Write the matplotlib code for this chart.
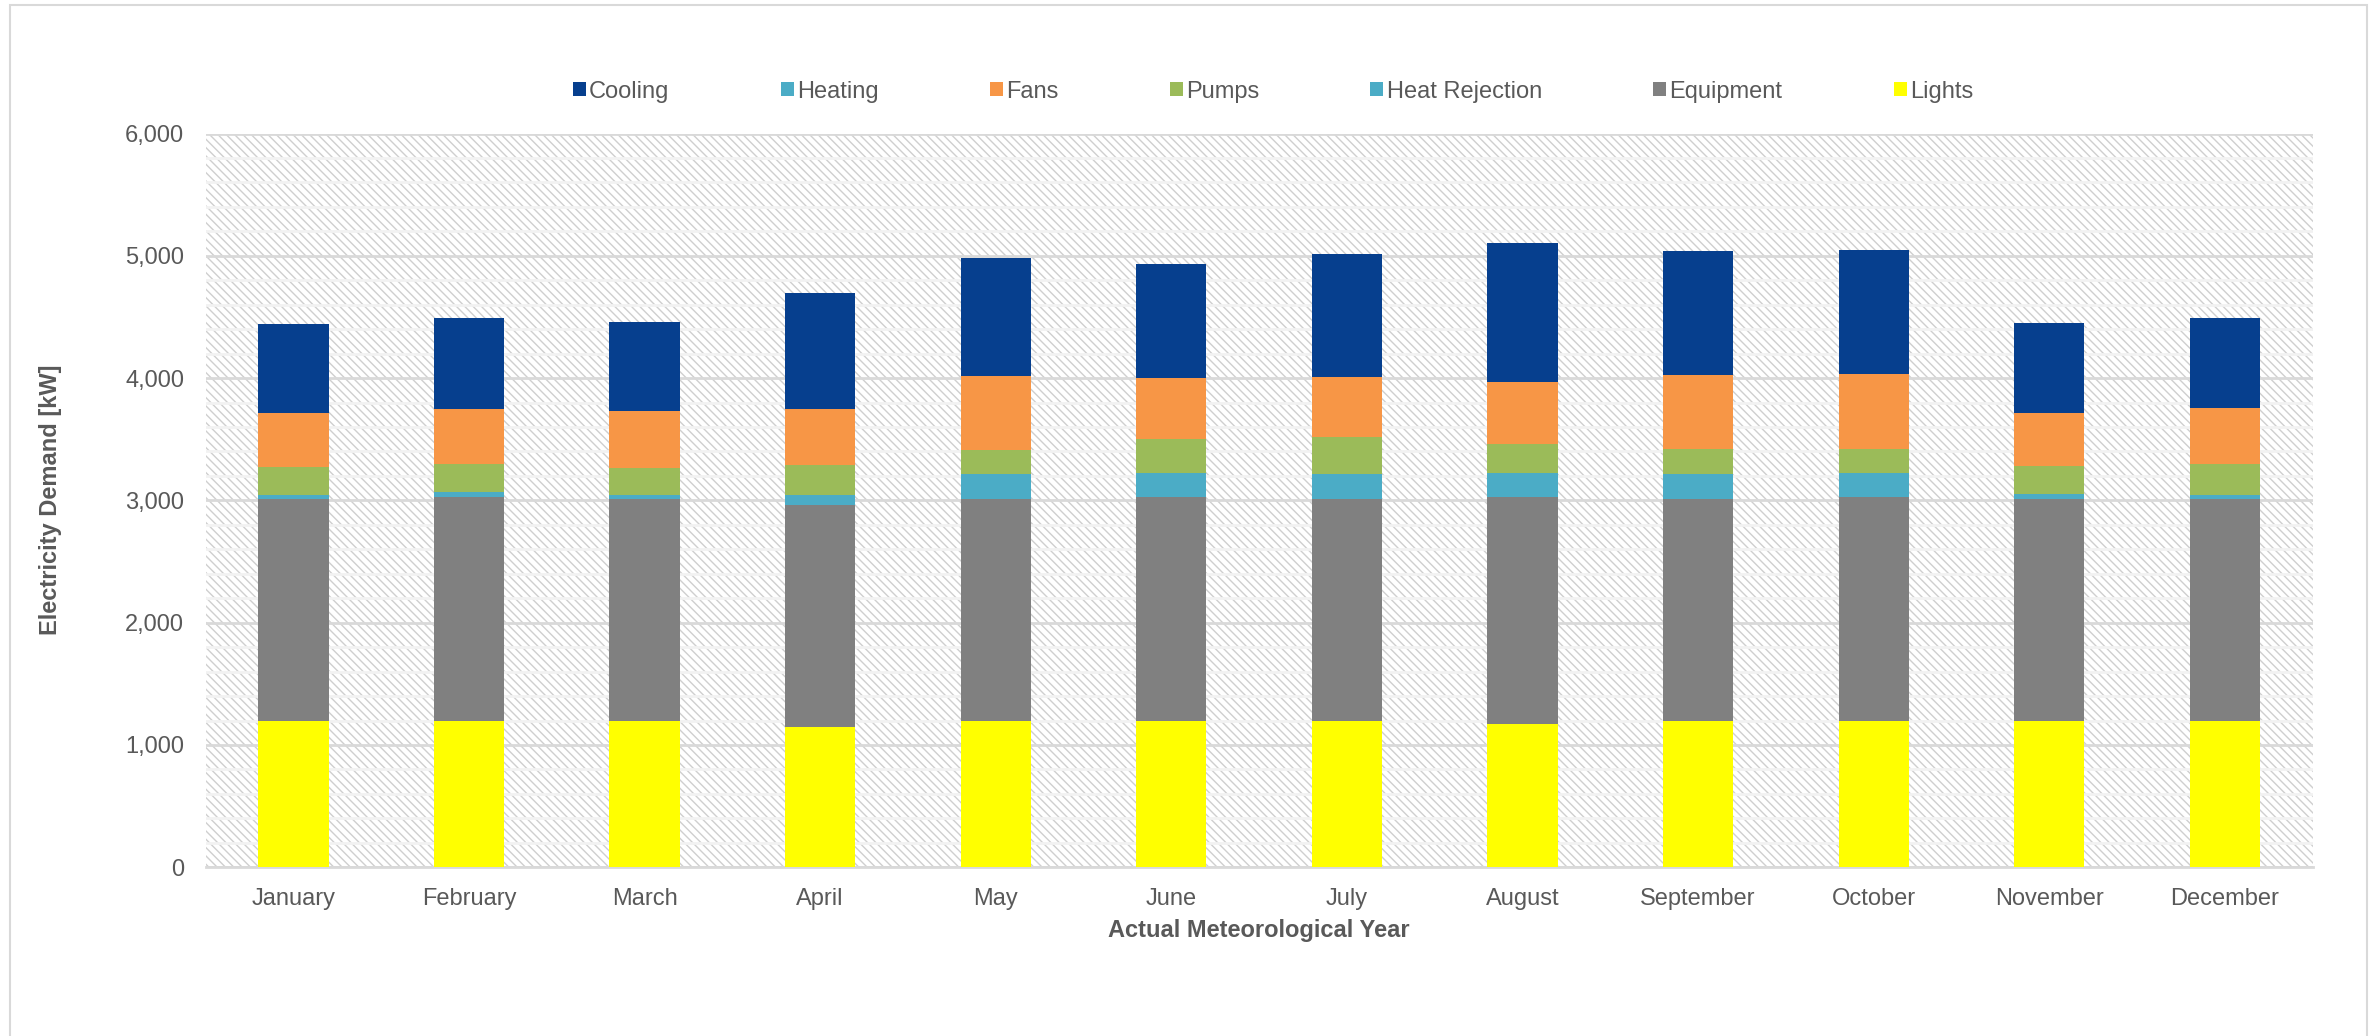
import matplotlib.pyplot as plt
import numpy as np
from matplotlib.patches import Patch, Rectangle
from matplotlib.ticker import FuncFormatter, MultipleLocator

plt.rcParams['font.family'] = ['Liberation Sans', 'DejaVu Sans']

months = ['January', 'February', 'March', 'April', 'May', 'June', 'July',
          'August', 'September', 'October', 'November', 'December']

# kW (stacked bottom -> top)
lights = [1200, 1200, 1200, 1150, 1200, 1200, 1200, 1170, 1200, 1200, 1200, 1200]
equipment = [1810, 1828, 1811, 1812, 1811, 1828, 1811, 1855, 1811, 1828, 1811, 1811]
heat_rejection = [37, 43, 30, 79, 205, 196, 205, 196, 205, 193, 38, 33]
pumps = [229, 229, 224, 249, 196, 278, 300, 240, 202, 200, 232, 256]
fans = [442, 448, 469, 458, 608, 502, 491, 510, 605, 613, 437, 459]
heating = [0, 0, 0, 0, 0, 0, 0, 0, 0, 0, 0, 0]
cooling = [728, 741, 726, 946, 966, 927, 1006, 1135, 1018, 1012, 736, 730]

series = [('Lights', lights, '#FFFF00'),
          ('Equipment', equipment, '#808080'),
          ('Heat Rejection', heat_rejection, '#4BACC6'),
          ('Pumps', pumps, '#9BBB59'),
          ('Fans', fans, '#F79646'),
          ('Heating', heating, '#4BACC6'),
          ('Cooling', cooling, '#063F8E')]

W, H = 2379, 1036
txt = '#595959'

fig = plt.figure(figsize=(W / 100, H / 100), dpi=100)
ax = fig.add_axes([205.6 / W, 1 - 867.3 / H, (2312.6 - 205.6) / W, (867.3 - 133.5) / H])

# hatched plot area like the excel pattern fill
ax.set_facecolor('white')
plt.rcParams['hatch.linewidth'] = 1.0
ax.add_patch(Rectangle((0, 0), 1, 1, transform=ax.transAxes, facecolor='white',
                       edgecolor='#CFCFCF', hatch='\\\\\\\\', lw=0, zorder=0))

x = np.arange(len(months))
bottom = np.zeros(len(months))
for name, vals, col in series:
    ax.bar(x, vals, 0.4, bottom=bottom, color=col, label=name, zorder=3)
    bottom += np.array(vals)

ax.set_xlim(-0.5, len(months) - 0.5)
ax.set_ylim(0, 6000)
ax.yaxis.set_major_locator(MultipleLocator(1000))
ax.yaxis.set_minor_locator(MultipleLocator(200))
ax.yaxis.set_major_formatter(FuncFormatter(lambda v, p: '{:,.0f}'.format(v)))
ax.set_axisbelow(True)
ax.grid(axis='y', which='minor', color='#F2F2F2', lw=2.0, zorder=1)
ax.grid(axis='y', which='major', color='#D9D9D9', lw=2.0, zorder=1)
ax.set_xticks(x)
ax.set_xticklabels(months)
ax.tick_params(axis='both', which='both', length=0, labelsize=17, labelcolor=txt)
ax.tick_params(axis='y', pad=15.5)
ax.tick_params(axis='x', pad=15)

for s in ['top', 'right', 'left']:
    ax.spines[s].set_visible(False)
ax.spines['bottom'].set_color('#D9D9D9')
ax.spines['bottom'].set_linewidth(2)

# axis titles
fig.text(50 / W, 1 - 500 / H, 'Electricity Demand [kW]', rotation=90, ha='center',
         va='center', fontsize=17, fontweight='bold', color=txt)
fig.text(1259 / W, 1 - 931 / H, 'Actual Meteorological Year', ha='center',
         va='center', fontsize=17, fontweight='bold', color=txt)

# legend, same order as the original
order = ['Cooling', 'Heating', 'Fans', 'Pumps', 'Heat Rejection', 'Equipment', 'Lights']
cols = {n: c for n, v, c in series}
handles = [Patch(facecolor=cols[n], edgecolor='none', label=n) for n in order]
fig.legend(handles=handles, loc='center', bbox_to_anchor=(1273 / W, 1 - 91.7 / H),
           ncol=7, frameon=False, fontsize=17, labelcolor=txt, handlelength=0.55,
           handleheight=0.55, handletextpad=0.15, columnspacing=4.7)

# light border round the whole chart
fig.add_artist(Rectangle((10 / W, -0.01), (2367 - 10) / W, 1.01 - 5 / H,
                         transform=fig.transFigure, fill=False,
                         edgecolor='#D9D9D9', lw=1.5))

fig.savefig('out.png', dpi=100)
